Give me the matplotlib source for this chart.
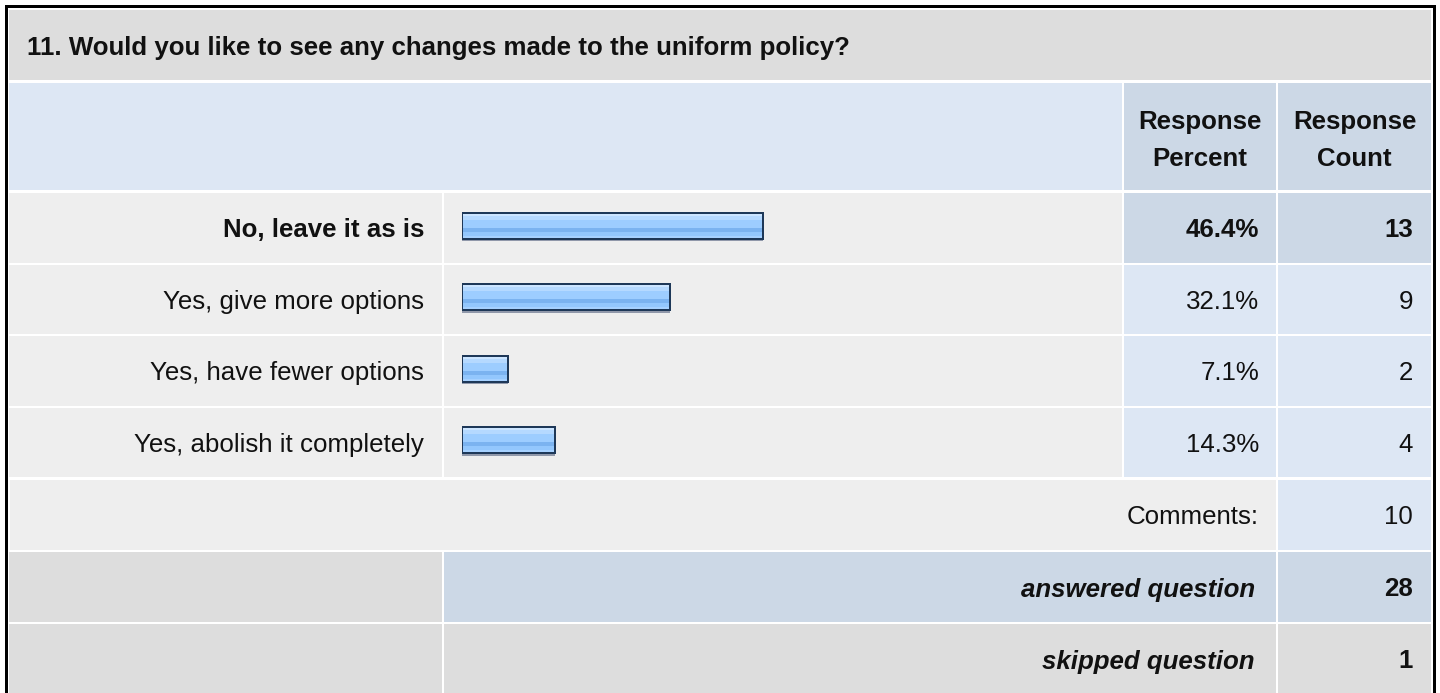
import matplotlib.pyplot as plt
from matplotlib.patches import Rectangle

# Survey data
titulo = '11. Would you like to see any changes made to the uniform policy?'
opcoes = ['No, leave it as is', 'Yes, give more options',
          'Yes, have fewer options', 'Yes, abolish it completely']
percentuais = [46.4, 32.1, 7.1, 14.3]
contagens = [13, 9, 2, 4]
comentarios = 10
respondidas = 28
puladas = 1

# Colours
GREY = '#DDDDDD'
LIGHT = '#EEEEEE'
BLUE_LIGHT = '#DDE7F4'
BLUE_DARK = '#CCD8E6'
FONT = 'Liberation Sans'
FS = 18.6

W, H = 1440, 693
fig = plt.figure(figsize=(W / 100, H / 100), dpi=100)
fig.patch.set_facecolor('white')
ax = fig.add_axes([0, 0, 1, 1])
ax.set_xlim(0, W)
ax.set_ylim(H, 0)
ax.axis('off')


def cell(x0, x1, y0, y1, color):
    ax.add_patch(Rectangle((x0, y0), x1 - x0, y1 - y0, facecolor=color, edgecolor='none'))


def txt(x, yc, s, ha='right', bold=False, italic=False):
    ax.text(x, yc + 9.5, s, ha=ha, va='baseline', fontsize=FS, family=FONT,
            fontweight='bold' if bold else 'normal',
            fontstyle='italic' if italic else 'normal', color='#111111')


# column edges (pixels)
c0, c1, c2, c3 = (9, 442), (444, 1122), (1124, 1276), (1278, 1431)

# title row
cell(c0[0], c3[1], 10, 80, GREY)
txt(27, 46, titulo, ha='left', bold=True)

# header row
cell(c0[0], c1[1], 83, 190, BLUE_LIGHT)
cell(c2[0], c2[1], 83, 190, BLUE_DARK)
cell(c3[0], c3[1], 83, 190, BLUE_DARK)
for col, palavra in [(c2, 'Percent'), (c3, 'Count')]:
    xm = (col[0] + col[1]) / 2
    txt(xm, 120, 'Response', ha='center', bold=True)
    txt(xm, 157, palavra, ha='center', bold=True)

# answer rows
topo = 193
alt = 71.5
for i, (op, p, n) in enumerate(zip(opcoes, percentuais, contagens)):
    y0 = topo + i * alt
    y1 = y0 + alt - 2
    yc = (y0 + y1) / 2
    destaque = i == 0
    cor = BLUE_DARK if destaque else BLUE_LIGHT
    cell(c0[0], c0[1], y0, y1, LIGHT)
    cell(c1[0], c1[1], y0, y1, LIGHT)
    cell(c2[0], c2[1], y0, y1, cor)
    cell(c3[0], c3[1], y0, y1, cor)
    txt(424, yc, op, bold=destaque)
    txt(1259, yc, f'{p:.1f}%', bold=destaque)
    txt(1413, yc, str(n), bold=destaque)

# comments row
cell(10, c2[1], 480, 550, LIGHT)
cell(c3[0], c3[1], 480, 550, BLUE_LIGHT)
txt(1259, 515, 'Comments:')
txt(1413, 515, str(comentarios))

# answered / skipped
cell(c0[0], c0[1], 552, 622, GREY)
cell(c1[0], c2[1], 552, 622, BLUE_DARK)
cell(c3[0], c3[1], 552, 622, BLUE_DARK)
txt(1255, 587, 'answered question', bold=True, italic=True)
txt(1413, 587, str(respondidas), bold=True)

cell(c0[0], c0[1], 624, H + 5, GREY)
cell(c1[0], c2[1], 624, H + 5, GREY)
cell(c3[0], c3[1], 624, H + 5, GREY)
txt(1255, 659, 'skipped question', bold=True, italic=True)
txt(1413, 659, str(puladas), bold=True)

# outer frame
ax.plot([5.5, 5.5, 1433.5, 1433.5], [H + 10, 5.5, 5.5, H + 10],
        color='black', lw=3 * 0.72, solid_joinstyle='miter')

# bars (percent scale)
bx = fig.add_axes([462 / W, 1 - 476 / H, 649 / W, 286 / H])
bx.set_xlim(0, 100)
bx.set_ylim(len(opcoes) - 0.5, -0.5)
bx.axis('off')

faixas = [(2, 4, '#CCE5FF'), (4, 8, '#B5D9FF'), (8, 16, '#9DCDFF'),
          (16, 20, '#7BB3F0'), (20, 24, '#93C7FD'), (24, 26, '#A6D1FF')]
y_idx = list(range(len(opcoes)))
# shadow
bx.barh([y + 1.5 / alt for y in y_idx], percentuais, height=28 / alt, color='#9098AA')
for a, b, c in faixas:
    off = ((a + b) / 2 - 14) / alt
    bx.barh([y + off for y in y_idx], percentuais, height=(b - a) / alt, color=c)
bx.barh(y_idx, percentuais, height=26 / alt, fill=False, edgecolor='#1E3858', linewidth=2 * 0.72)

fig.savefig('out.png', dpi=100)
